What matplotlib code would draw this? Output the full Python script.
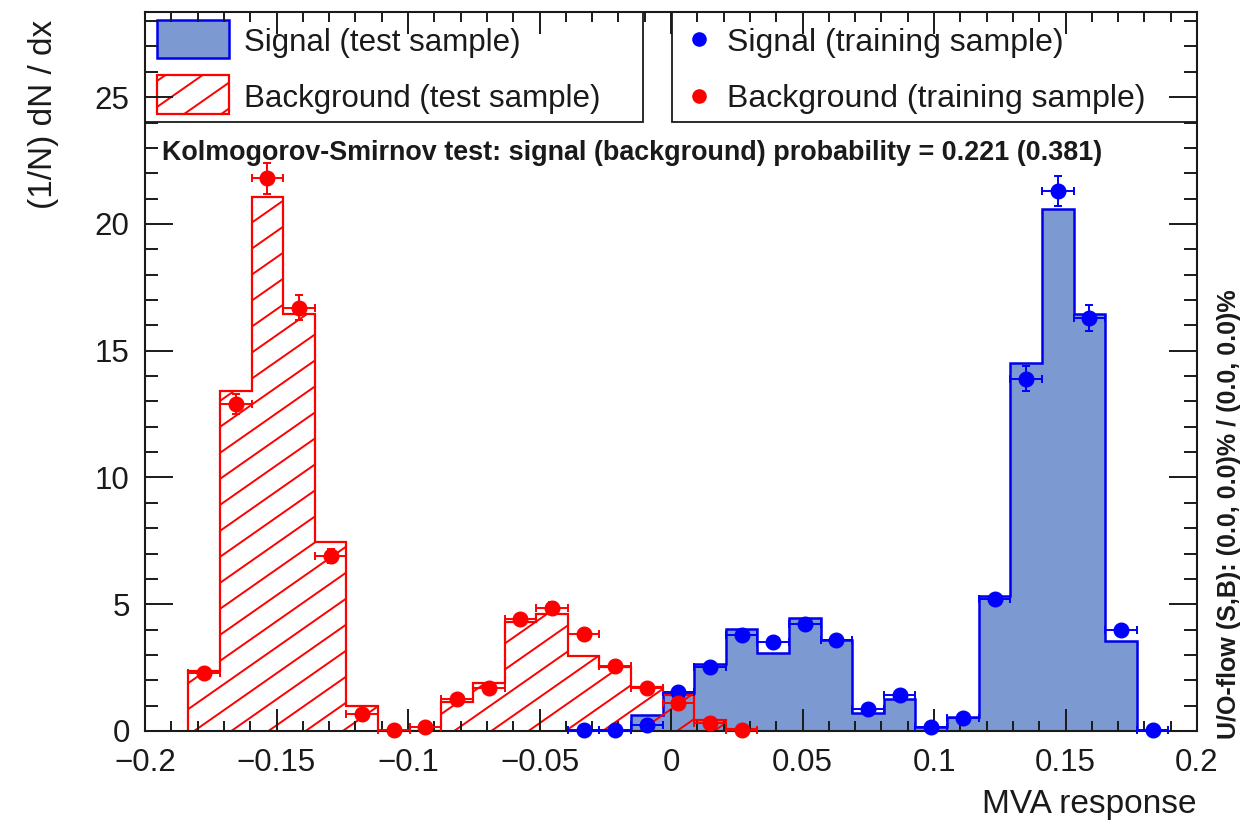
"""
TMVA overtraining check: MVA response for signal / background, test (histograms)
vs training (points with error bars).
"""
import numpy as np
import matplotlib
matplotlib.use("Agg")
import matplotlib.pyplot as plt
from matplotlib.patches import Rectangle
from matplotlib.ticker import MultipleLocator, FuncFormatter

plt.rcParams['font.family'] = ['Liberation Sans', 'DejaVu Sans']

nan = np.nan

# binning of the response histograms
xlow = -0.1835
bin_width = 0.01202
nbins = 31

# test sample (histograms), one value per bin
sig_test = [nan] * 14 + [0.63, 1.49, 2.65, 4.03, 3.07, 4.45, 3.60, 0.72, 1.25, 0.15,
                         0.56, 5.33, 14.5, 20.6, 16.45, 3.55, nan]
bkg_test = [2.35, 13.4, 21.05, 16.45, 7.45, 1.0, 0.0, 0.0, 1.15, 1.9, 4.3, 4.6, 2.96,
            2.54, 1.75, 1.42, 0.43, 0.07] + [nan] * 13

# training sample (points)
sig_train = [nan] * 12 + [0.02, 0.02, 0.24, 1.55, 2.53, 3.78, 3.5, 4.23, 3.57, 0.86, 1.42,
                          0.15, 0.5, 5.2, 13.9, 21.3, 16.3, 3.98, 0.02]
sig_train_err = [nan] * 12 + [0.02, 0.02, 0.06, 0.12, 0.15, 0.18, 0.17, 0.2, 0.18, 0.09,
                              0.12, 0.04, 0.07, 0.22, 0.5, 0.58, 0.52, 0.2, 0.02]
bkg_train = [2.3, 12.9, 21.8, 16.7, 6.9, 0.68, 0.02, 0.15, 1.26, 1.7, 4.4, 4.85, 3.82,
             2.55, 1.69, 1.1, 0.3, 0.04] + [nan] * 13
bkg_train_err = [0.15, 0.38, 0.62, 0.48, 0.27, 0.08, 0.02, 0.04, 0.11, 0.13, 0.2, 0.22,
                 0.19, 0.15, 0.13, 0.1, 0.05, 0.02] + [nan] * 13

ks_text = "Kolmogorov-Smirnov test: signal (background) probability = 0.221 (0.381)"
uo_text = "U/O-flow (S,B): (0.0, 0.0)% / (0.0, 0.0)%"

SIG_FILL = '#7d99d1'
SIG_LINE = '#0000ee'
BKG = '#ff0000'
INK = '#1a1a1a'

W_PX, H_PX = 1258, 832
AX_PX = (145, 12, 1197, 731)  # left, top, right, bottom in pixels


def add_hatch(ax, clip_patch, color, spacing_px=26.0, slope_px=0.7):
    # ROOT-like hatching, drawn as lines clipped to the patch
    w = AX_PX[2] - AX_PX[0]
    h = AX_PX[3] - AX_PX[1]
    slope = slope_px * w / h
    dy = spacing_px / h
    for c in np.arange(-slope - dy, 1 + dy, dy):
        ln, = ax.plot([0, 1], [c, c + slope], transform=ax.transAxes, color=color, lw=1.4,
                      zorder=1.2)
        ln.set_clip_path(clip_patch)


edges = xlow + bin_width * np.arange(nbins + 1)
centers = 0.5 * (edges[:-1] + edges[1:])

fig = plt.figure(figsize=(W_PX / 100, H_PX / 100), dpi=100)
ax = fig.add_axes([AX_PX[0] / W_PX, 1 - AX_PX[3] / H_PX,
                   (AX_PX[2] - AX_PX[0]) / W_PX, (AX_PX[3] - AX_PX[1]) / H_PX])

# signal test histogram
ax.stairs(np.array(sig_test), edges, fill=True, facecolor=SIG_FILL, edgecolor='none', zorder=1)
ax.stairs(np.array(sig_test), edges, fill=False, edgecolor=SIG_LINE, lw=1.8, zorder=1.1)

# background test histogram (hatched)
bkg_patch = ax.stairs(np.array(bkg_test), edges, fill=True, facecolor='none',
                      edgecolor='none', zorder=1)
add_hatch(ax, bkg_patch, BKG)
ax.stairs(np.array(bkg_test), edges, fill=False, edgecolor=BKG, lw=1.6, zorder=1.3)

# training points
for vals, errs, col in [(sig_train, sig_train_err, '#0000ff'), (bkg_train, bkg_train_err, BKG)]:
    ax.errorbar(centers, vals, xerr=bin_width / 2, yerr=errs, fmt='o', color=col, ms=10.5,
                elinewidth=1.4, capsize=2.8, capthick=1.4, clip_on=False, zorder=3)

ax.set_xlim(-0.2, 0.2)
ax.set_ylim(0, 28.36)
ax.xaxis.set_major_locator(MultipleLocator(0.05))
ax.xaxis.set_minor_locator(MultipleLocator(0.01))
ax.yaxis.set_major_locator(MultipleLocator(5))
ax.yaxis.set_minor_locator(MultipleLocator(1))
ax.xaxis.set_major_formatter(FuncFormatter(lambda v, p: f"{v:g}".replace('-', '\u2212')))
ax.yaxis.set_major_formatter(FuncFormatter(lambda v, p: f"{v:g}"))
ax.tick_params(which='both', direction='in', top=True, right=True, width=1.4,
               labelsize=22.5, colors=INK)
ax.tick_params(axis='x', which='major', length=16, pad=12)
ax.tick_params(axis='x', which='minor', length=7)
ax.tick_params(axis='y', which='major', length=20, pad=11)
ax.tick_params(axis='y', which='minor', length=9.5)
for sp in ax.spines.values():
    sp.set_linewidth(1.5)
    sp.set_color(INK)


def px2ax(x, y):
    return ((x - AX_PX[0]) / (AX_PX[2] - AX_PX[0]), (AX_PX[3] - y) / (AX_PX[3] - AX_PX[1]))


# legend boxes, drawn ROOT style
x_left_end, ybox = px2ax(643, 122)
x_right_start, _ = px2ax(672, 122)
ax.add_patch(Rectangle((0, ybox), x_left_end, 1 - ybox, transform=ax.transAxes,
                       facecolor='white', edgecolor=INK, lw=1.3, zorder=1.15))
ax.add_patch(Rectangle((x_right_start, ybox), 1 - x_right_start, 1 - ybox,
                       transform=ax.transAxes, facecolor='white', edgecolor=INK,
                       lw=1.3, zorder=1.15))

sx0, sy_top = px2ax(157, 20)
sx1, sy_bot = px2ax(229, 58)
ax.add_patch(Rectangle((sx0, sy_bot), sx1 - sx0, sy_top - sy_bot, transform=ax.transAxes,
                       facecolor=SIG_FILL, edgecolor=SIG_LINE, lw=1.8, zorder=1.2))
_, ry_top = px2ax(157, 75)
_, ry_bot = px2ax(157, 114)
red_sw = Rectangle((sx0, ry_bot), sx1 - sx0, ry_top - ry_bot, transform=ax.transAxes,
                   facecolor='none', edgecolor=BKG, lw=1.6, zorder=1.3)
ax.add_patch(red_sw)
add_hatch(ax, red_sw, BKG)

row1 = px2ax(0, 43)[1]
row2 = px2ax(0, 99)[1]
tx, _ = px2ax(244, 0)
ax.text(tx, row1, "Signal (test sample)", transform=ax.transAxes,
        fontsize=22.5, va='center', ha='left', color=INK, zorder=3)
ax.text(tx, row2, "Background (test sample)", transform=ax.transAxes,
        fontsize=22.5, va='center', ha='left', color=INK, zorder=3)
mx, _ = px2ax(699, 0)
tx2, _ = px2ax(727, 0)
ax.plot([mx], [px2ax(0, 39)[1]], 'o', color='#0000ff', ms=9.5, transform=ax.transAxes,
        zorder=3)
ax.plot([mx], [px2ax(0, 96)[1]], 'o', color=BKG, ms=9.5, transform=ax.transAxes,
        zorder=3)
ax.text(tx2, row1, "Signal (training sample)", transform=ax.transAxes,
        fontsize=23, va='center', ha='left', color=INK, zorder=3)
ax.text(tx2, row2, "Background (training sample)", transform=ax.transAxes,
        fontsize=23, va='center', ha='left', color=INK, zorder=3)

kx, ky = px2ax(162, 153)
ax.text(kx, ky, ks_text, transform=ax.transAxes, fontsize=19.4, fontweight='bold',
        va='center', ha='left', color=INK)

fig.text(44 / W_PX, 1 - 20 / H_PX, "(1/N) dN / dx", rotation=90, ha='center', va='top',
         fontsize=24, color=INK)
fig.text(1196 / W_PX, 1 - 805 / H_PX, "MVA response", ha='right', va='center',
         fontsize=24, color=INK)
fig.text(1229 / W_PX, 1 - 739 / H_PX, uo_text, rotation=90, ha='center', va='bottom',
         fontsize=18, fontweight='bold', color=INK)

fig.savefig("out.png", dpi=100)
